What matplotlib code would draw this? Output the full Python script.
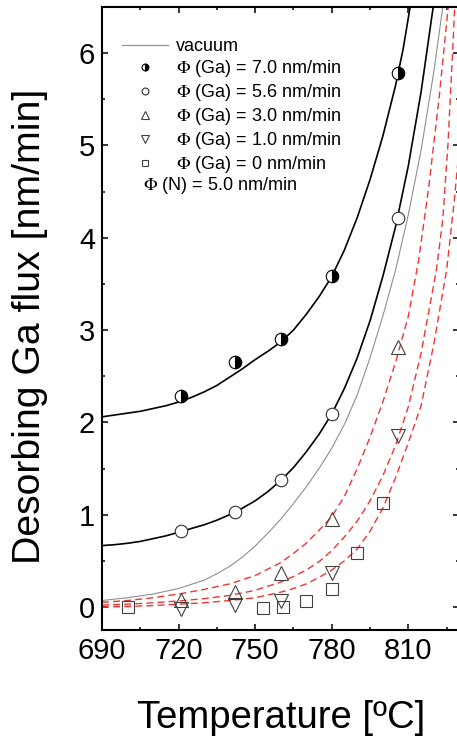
import matplotlib
matplotlib.use('Agg')
import matplotlib.pyplot as plt
from matplotlib.ticker import MultipleLocator

plt.rcParams['font.family'] = ['Liberation Sans', 'DejaVu Sans']
plt.rcParams['mathtext.fontset'] = 'stix'

# ---- measured points ----
T_ga70 = [721, 742, 760, 780, 806]
y_ga70 = [2.29, 2.65, 2.90, 3.59, 5.78]

T_ga56 = [721, 742, 760, 780, 806]
y_ga56 = [0.82, 1.03, 1.38, 2.09, 4.21]

T_ga30 = [721, 742, 760, 780, 806]
y_ga30 = [0.08, 0.16, 0.37, 0.95, 2.82]

T_ga10 = [721, 742, 760, 780, 806]
y_ga10 = [-0.02, 0.02, 0.07, 0.37, 1.85]

T_ga00 = [700, 753, 761, 770, 780, 790, 800]
y_ga00 = [0.00, -0.01, 0.00, 0.06, 0.20, 0.58, 1.13]

# ---- fitted curves ----
T_fit70 = [690, 695, 700, 705, 710, 715, 720, 725, 730, 735, 740, 745, 750, 755,
           760, 765, 770, 775, 780, 785, 790, 795, 800, 805, 808, 811]
y_fit70 = [2.06, 2.08, 2.10, 2.12, 2.15, 2.18, 2.22, 2.27, 2.33, 2.40, 2.49, 2.58,
           2.68, 2.77, 2.87, 3.00, 3.17, 3.36, 3.58, 3.87, 4.22, 4.63, 5.10, 5.65,
           6.05, 6.55]

T_fit56 = [690, 695, 700, 705, 710, 715, 720, 725, 730, 735, 740, 745, 750, 755,
           760, 765, 770, 775, 780, 785, 790, 795, 800, 805, 810, 815, 820]
y_fit56 = [0.665, 0.675, 0.69, 0.71, 0.74, 0.77, 0.81, 0.85, 0.89, 0.94, 1.00, 1.07,
           1.15, 1.25, 1.37, 1.51, 1.68, 1.87, 2.09, 2.37, 2.70, 3.10, 3.58, 4.12,
           4.78, 5.58, 6.55]

T_vac = [690, 700, 710, 720, 730, 735, 740, 745, 750, 755, 760, 765, 770, 775,
         780, 785, 790, 795, 800, 805, 810, 815, 820, 824]
y_vac = [0.07, 0.10, 0.14, 0.20, 0.29, 0.36, 0.44, 0.54, 0.66, 0.80, 0.95, 1.12,
         1.30, 1.50, 1.72, 1.98, 2.30, 2.70, 3.15, 3.65, 4.25, 4.95, 5.80, 6.60]

T_red1 = [690, 700, 710, 720, 730, 740, 750, 760, 765, 770, 775, 780, 785, 790,
          795, 800, 805, 810, 814, 818, 822, 826]
y_red1 = [0.05, 0.07, 0.10, 0.14, 0.19, 0.25, 0.34, 0.48, 0.58, 0.69, 0.83, 0.98,
          1.20, 1.50, 1.84, 2.22, 2.65, 3.15, 3.75, 4.55, 5.50, 6.60]

T_red2 = [690, 700, 710, 720, 730, 740, 750, 760, 765, 770, 775, 780, 785, 790,
          795, 800, 805, 810, 815, 818, 821, 823.5, 825.5, 827.5, 828.5]
y_red2 = [0.02, 0.03, 0.045, 0.065, 0.09, 0.125, 0.18, 0.27, 0.33, 0.40, 0.49, 0.61,
          0.76, 0.93, 1.15, 1.42, 1.75, 2.17, 2.75, 3.20, 3.65, 4.20, 5.00, 6.10, 6.70]

T_red3 = [690, 700, 710, 720, 730, 740, 750, 760, 765, 770, 775, 780, 785, 790,
          795, 800, 805, 810, 815, 820, 825, 828, 830]
y_red3 = [0.00, 0.005, 0.015, 0.03, 0.045, 0.07, 0.10, 0.16, 0.20, 0.25, 0.32, 0.40,
          0.50, 0.63, 0.82, 1.07, 1.40, 1.78, 2.18, 2.85, 3.65, 4.40, 5.00]

x_major = [690, 720, 750, 780, 810]
y_major = [0, 1, 2, 3, 4, 5, 6]

labels = ['vacuum',
          r'$\Phi$ (Ga) = 7.0 nm/min',
          r'$\Phi$ (Ga) = 5.6 nm/min',
          r'$\Phi$ (Ga) = 3.0 nm/min',
          r'$\Phi$ (Ga) = 1.0 nm/min',
          r'$\Phi$ (Ga) = 0 nm/min']
note = r'$\Phi$ (N) = 5.0 nm/min'

fig = plt.figure(figsize=(4.57, 7.40), dpi=100)
ax = fig.add_axes([0.2232, 0.1486, 0.782, 0.8419])

red = '#f03535'
l_vac, = ax.plot(T_vac, y_vac, color='#8f8f8f', lw=0.8, zorder=2)
ax.plot(T_fit70, y_fit70, color='black', lw=1.2, zorder=2)
ax.plot(T_fit56, y_fit56, color='black', lw=1.2, zorder=2)
for T, y in ((T_red1, y_red1), (T_red2, y_red2), (T_red3, y_red3)):
    ax.plot(T, y, color=red, lw=1.0, dashes=(5, 3), zorder=2)

ec = '#404040'
h70, = ax.plot(T_ga70, y_ga70, ls='none', marker='o', ms=9, fillstyle='right',
               mfc='black', mfcalt='white', mec='black', mew=0.8, zorder=4)
h56, = ax.plot(T_ga56, y_ga56, ls='none', marker='o', ms=9, mfc='white',
               mec='#303030', mew=0.8, zorder=4)
h30, = ax.plot(T_ga30, y_ga30, ls='none', marker='^', ms=9.5, mfc='none',
               mec=ec, mew=0.8, zorder=4)
h10, = ax.plot(T_ga10, y_ga10, ls='none', marker='v', ms=9.5, mfc='none',
               mec=ec, mew=0.8, zorder=4)
h00, = ax.plot(T_ga00, y_ga00, ls='none', marker='s', ms=8.6, mfc='none',
               mec=ec, mew=0.8, zorder=4)

ax.set_xlim(690, 830)
ax.set_ylim(-0.25, 6.5)
ax.set_xticks(x_major)
ax.set_yticks(y_major)
ax.xaxis.set_minor_locator(MultipleLocator(15))
ax.yaxis.set_minor_locator(MultipleLocator(0.5))
ax.tick_params(which='both', direction='in', top=True, right=True, width=1.1)
ax.tick_params(which='major', length=4.5, labelsize=21, pad=5)
ax.tick_params(which='minor', length=2.5)
for s in ax.spines.values():
    s.set_linewidth(1.5)

ax.set_xlabel('Temperature [ºC]', fontsize=27.5)
ax.xaxis.label.set_va('center')
ax.xaxis.set_label_coords(0.5, -0.141)
ax.set_ylabel('Desorbing Ga flux [nm/min]', fontsize=28.3)
ax.yaxis.label.set_va('center')
ax.yaxis.set_label_coords(-0.2015, 0.488)

leg = ax.legend([l_vac, h70, h56, h30, h10, h00], labels, loc='upper left',
                bbox_to_anchor=(0.055, 0.9495), frameon=False, fontsize=13,
                markerscale=0.55, handlelength=2.58, handletextpad=0.42,
                labelspacing=0.16, borderpad=0, borderaxespad=0)
ax.text(0.1156, 0.714, note, transform=ax.transAxes, fontsize=13,
        ha='left', va='center')

fig.savefig('out.png', dpi=100)
